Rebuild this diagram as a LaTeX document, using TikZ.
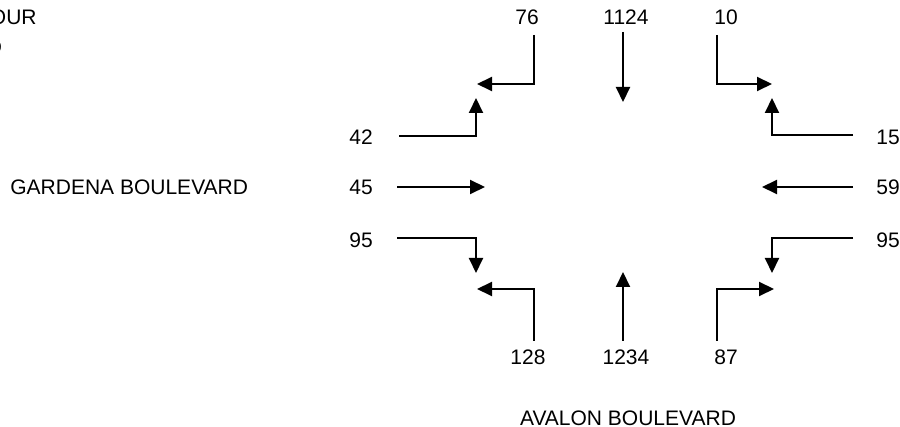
\documentclass[tikz,border=0pt]{standalone}
\usepackage{fontspec}
\setmainfont{Liberation Sans}
\usetikzlibrary{arrows.meta}

\begin{document}
\begin{tikzpicture}[x=0.5pt,y=-0.5pt,
  lbl/.style={font=\fontsize{10.5}{12}\selectfont},
  fleche/.style={line width=1pt,-{Triangle[length=7.5pt,width=7pt]}}]

\clip (0,0) rectangle (900,427) ;

% titre coupé

\node[lbl,anchor=east,inner sep=0] (titre) at (37,17) {OUR} ;
\node[lbl,anchor=east,inner sep=0] (titreb) at (2.5,47) {D} ;

% noms des rues

\node[lbl,anchor=west,inner sep=0] (gardena) at (10,187) {GARDENA BOULEVARD} ;
\node[lbl] (avalon) at (628,418) {AVALON BOULEVARD} ;

% branche nord

\node[lbl] (n76) at (527,17) {76} ;
\node[lbl] (n1124) at (626,17) {1124} ;
\node[lbl] (n10) at (726,17) {10} ;

\coordinate (a76) at (534,35) ;
\coordinate (b76) at (477,84) ;
\coordinate (a1124) at (623,32) ;
\coordinate (b1124) at (623,102) ;
\coordinate (a10) at (717,35) ;
\coordinate (b10) at (772,84) ;

\draw[fleche] (a76) |- (b76) ;
\draw[fleche] (a1124) -- (b1124) ;
\draw[fleche] (a10) |- (b10) ;

% branche ouest

\node[lbl] (n42) at (361,137) {42} ;
\node[lbl] (n45) at (361,187) {45} ;
\node[lbl] (n95o) at (361,240) {95} ;

\coordinate (a42) at (399,136) ;
\coordinate (b42) at (476,98) ;
\coordinate (a45) at (397,187) ;
\coordinate (b45) at (485,187) ;
\coordinate (a95o) at (397,238) ;
\coordinate (b95o) at (476,273) ;

\draw[fleche] (a42) -| (b42) ;
\draw[fleche] (a45) -- (b45) ;
\draw[fleche] (a95o) -| (b95o) ;

% branche est

\node[lbl] (n15) at (888,137) {15} ;
\node[lbl] (n59) at (888,187) {59} ;
\node[lbl] (n95e) at (888,240) {95} ;

\coordinate (a15) at (853,135) ;
\coordinate (b15) at (772,98) ;
\coordinate (a59) at (853,187) ;
\coordinate (b59) at (762,187) ;
\coordinate (a95e) at (853,238) ;
\coordinate (b95e) at (772,273) ;

\draw[fleche] (a15) -| (b15) ;
\draw[fleche] (a59) -- (b59) ;
\draw[fleche] (a95e) -| (b95e) ;

% branche sud

\node[lbl] (n128) at (528,357) {128} ;
\node[lbl] (n1234) at (626,357) {1234} ;
\node[lbl] (n87) at (726,357) {87} ;

\coordinate (a128) at (534,341) ;
\coordinate (b128) at (477,289) ;
\coordinate (a1234) at (623,341) ;
\coordinate (b1234) at (623,272) ;
\coordinate (a87) at (717,341) ;
\coordinate (b87) at (774,289) ;

\draw[fleche] (a128) |- (b128) ;
\draw[fleche] (a1234) -- (b1234) ;
\draw[fleche] (a87) |- (b87) ;

\end{tikzpicture}
\end{document}
